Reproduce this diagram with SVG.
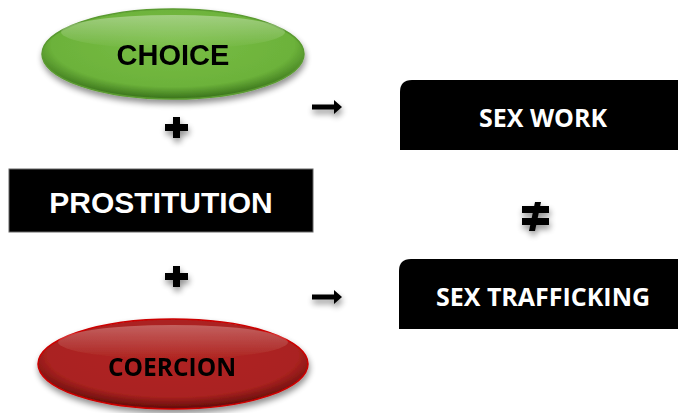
<svg xmlns="http://www.w3.org/2000/svg" width="678" height="413" viewBox="0 0 678 413">
<style>
.lbl{font-family:"Liberation Sans",Arial,sans-serif;font-weight:bold;text-anchor:middle}
.cal{font-family:"Open Sans","Liberation Sans",sans-serif;font-weight:bold;text-anchor:middle}
.sym{fill:#000}
</style>
<defs>
<radialGradient id="gG" cx="50%" cy="40%" r="58%">
<stop offset="0" stop-color="#78bd45"/>
<stop offset="0.8" stop-color="#6cb23a"/>
<stop offset="1" stop-color="#3f7a1f"/>
</radialGradient>
<linearGradient id="gH" x1="0" y1="0" x2="0" y2="1">
<stop offset="0" stop-color="#ffffff" stop-opacity="0.35"/>
<stop offset="1" stop-color="#ffffff" stop-opacity="0"/>
</linearGradient>
<radialGradient id="rG" cx="50%" cy="40%" r="58%">
<stop offset="0" stop-color="#b02420"/>
<stop offset="0.8" stop-color="#aa2220"/>
<stop offset="1" stop-color="#6a0f0c"/>
</radialGradient>
<filter id="sh" x="-20%" y="-20%" width="140%" height="160%">
<feGaussianBlur in="SourceAlpha" stdDeviation="3"/>
<feOffset dx="1" dy="4"/>
<feComponentTransfer><feFuncA type="linear" slope="0.45"/></feComponentTransfer>
<feMerge><feMergeNode/><feMergeNode in="SourceGraphic"/></feMerge>
</filter>
</defs>

<g id="choice" filter="url(#sh)">
<ellipse cx="173" cy="54" rx="131" ry="45" fill="url(#gG)" stroke="#5a9a30" stroke-width="1.5"/>
<ellipse cx="173" cy="32" rx="112" ry="17" fill="url(#gH)"/>
<text class="lbl" x="173" y="65" font-size="29" fill="#000">CHOICE</text>
</g>

<g id="prostitution">
<rect x="9" y="169" width="304" height="63" fill="#000" stroke="#666" stroke-width="1"/>
<text class="lbl" x="161" y="213" font-size="30" fill="#fff">PROSTITUTION</text>
</g>

<g id="coercion" filter="url(#sh)">
<ellipse cx="173" cy="364" rx="135" ry="45" fill="url(#rG)" stroke="#c00" stroke-width="1.5"/>
<ellipse cx="173" cy="342" rx="115" ry="17" fill="url(#gH)" opacity="0.8"/>
<text class="cal" x="172" y="376" font-size="24.5" fill="#000">COERCION</text>
</g>

<g id="sexwork">
<path d="M412 80 H678 V150 H400 V92 Q400 80 412 80 Z" fill="#000"/>
<text class="cal" x="543" y="127" font-size="25" fill="#fff">SEX WORK</text>
</g>

<g id="sextrafficking">
<path d="M411 259 H678 V329 H399 V271 Q399 259 411 259 Z" fill="#000"/>
<text class="cal" x="543" y="306" font-size="25" fill="#fff">SEX TRAFFICKING</text>
</g>

<g id="connectors" filter="url(#sh)">
<path class="sym" d="M165 124 H173 V117 H180 V124 H188 V131 H180 V138 H173 V131 H165 Z"/>
<path class="sym" d="M165 273 H173 V266 H180 V273 H188 V280 H180 V287 H173 V280 H165 Z"/>
<path class="sym" d="M312 104.5 H334 V100 L342 107 L334 114 V109.5 H312 Z"/>
<path class="sym" d="M312 294.5 H334 V290 L342 297 L334 304 V299.5 H312 Z"/>
<g id="neq">
<rect class="sym" x="522" y="206" width="27" height="7"/>
<rect class="sym" x="522" y="218" width="27" height="7"/>
<path class="sym" d="M535 202 L541 202 L535 231 L529 231 Z"/>
</g>
</g>
</svg>
